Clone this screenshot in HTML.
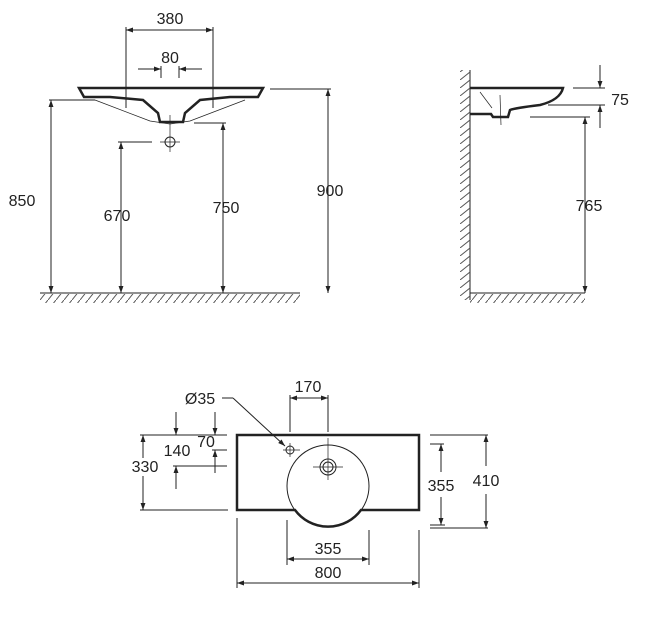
<!DOCTYPE html>
<html><head><style>
body{margin:0;background:#fff}
svg{display:block}
text{font-family:"Liberation Sans",sans-serif;font-size:16px;fill:#222;text-anchor:middle}
</style></head><body>
<svg width="648" height="637" viewBox="0 0 648 637" xmlns="http://www.w3.org/2000/svg">
<defs>
<marker id="a" viewBox="0 0 10 10" refX="10" refY="5" markerWidth="9" markerHeight="7" orient="auto-start-reverse" markerUnits="userSpaceOnUse"><path d="M0,1.5 L10,5 L0,8.5 z" fill="#222"/></marker>
<pattern id="h" width="8" height="10" patternUnits="userSpaceOnUse"><path d="M8,0 L0,10" stroke="#555" stroke-width="1"/></pattern>
<pattern id="hv" width="10" height="8" patternUnits="userSpaceOnUse"><path d="M10,0 L0,8" stroke="#555" stroke-width="1"/></pattern>
</defs>
<g stroke="#222" stroke-width="1" fill="none">
<!-- FRONT VIEW -->
<path d="M79,88 L263,88 L258,97 L230,97 L200,100 L185,113 L183,122 L160,122 L158,113 L143,100 L110,97 L84,97 Z" stroke-width="2.5"/>
<path d="M95,100 L150,121 L170,124 L190,121 L245,100" stroke-width="0.7"/>
<line x1="126" y1="27" x2="126" y2="108"/><line x1="213" y1="27" x2="213" y2="108"/>
<line x1="126" y1="30" x2="213" y2="30" marker-start="url(#a)" marker-end="url(#a)"/>
<line x1="161" y1="66" x2="161" y2="78"/><line x1="179" y1="66" x2="179" y2="78"/>
<line x1="138" y1="69" x2="161" y2="69" marker-end="url(#a)"/><line x1="202" y1="69" x2="179" y2="69" marker-end="url(#a)"/>
<line x1="170" y1="115" x2="170" y2="152" stroke-width="0.7"/>
<circle cx="170" cy="142" r="5"/><line x1="160" y1="142" x2="180" y2="142" stroke-width="0.7"/>
<line x1="49" y1="100" x2="95" y2="100"/>
<line x1="51" y1="100" x2="51" y2="293" marker-start="url(#a)" marker-end="url(#a)"/>
<line x1="118" y1="142" x2="152" y2="142"/>
<line x1="121" y1="142" x2="121" y2="293" marker-start="url(#a)" marker-end="url(#a)"/>
<line x1="194" y1="123" x2="226" y2="123"/>
<line x1="223" y1="123" x2="223" y2="293" marker-start="url(#a)" marker-end="url(#a)"/>
<line x1="270" y1="89" x2="331" y2="89"/>
<line x1="328" y1="89" x2="328" y2="293" marker-start="url(#a)" marker-end="url(#a)"/>
<line x1="40" y1="293" x2="300" y2="293"/>
<rect x="40" y="294" width="260" height="9" fill="url(#h)" stroke="none"/>
<!-- SIDE VIEW -->
<line x1="470" y1="70" x2="470" y2="300"/>
<rect x="460" y="70" width="10" height="230" fill="url(#hv)" stroke="none"/>
<line x1="470" y1="293" x2="585" y2="293"/>
<rect x="470" y="294" width="115" height="9" fill="url(#h)" stroke="none"/>
<path d="M470,88 L563,88 Q560,100 540,105 Q515,108 510,110 L508,117 L493,117 L491,114 L470,114" stroke-width="2.5"/>
<path d="M480,92 L492,108 M500,95 L501,125" stroke-width="0.7"/>
<line x1="573" y1="88" x2="605" y2="88"/><line x1="548" y1="105" x2="605" y2="105"/>
<line x1="600" y1="65" x2="600" y2="88" marker-end="url(#a)"/>
<line x1="600" y1="128" x2="600" y2="105" marker-end="url(#a)"/>
<line x1="530" y1="117" x2="590" y2="117"/>
<line x1="585" y1="117" x2="585" y2="293" marker-start="url(#a)" marker-end="url(#a)"/>
<!-- PLAN VIEW -->
<path d="M237,435 L419,435 L419,510 L361,510 A41,41 0 0 1 295,510 L237,510 Z" stroke-width="2.5"/>
<circle cx="328" cy="486" r="41"/>
<circle cx="290" cy="450" r="4"/><line x1="283" y1="450" x2="300" y2="450" stroke-width="0.7"/><line x1="290" y1="443" x2="290" y2="457" stroke-width="0.7"/>
<circle cx="328" cy="467" r="8"/><circle cx="328" cy="467" r="5"/>
<line x1="313" y1="467" x2="343" y2="467" stroke-width="0.7"/><line x1="328" y1="438" x2="328" y2="480" stroke-width="0.7"/>
<line x1="290" y1="395" x2="290" y2="432"/><line x1="328" y1="395" x2="328" y2="432"/>
<line x1="290" y1="398" x2="328" y2="398" marker-start="url(#a)" marker-end="url(#a)"/>
<line x1="222" y1="398" x2="233" y2="398"/>
<line x1="233" y1="398" x2="285" y2="446" marker-end="url(#a)"/>
<line x1="140" y1="435" x2="227" y2="435"/><line x1="140" y1="510" x2="228" y2="510"/>
<line x1="143" y1="458" x2="143" y2="435" marker-end="url(#a)"/>
<line x1="143" y1="476" x2="143" y2="510" marker-end="url(#a)"/>
<line x1="173" y1="466" x2="227" y2="466"/><line x1="212" y1="450" x2="227" y2="450"/>
<line x1="176" y1="412" x2="176" y2="435" marker-end="url(#a)"/>
<line x1="176" y1="489" x2="176" y2="466" marker-end="url(#a)"/>
<line x1="215" y1="412" x2="215" y2="435" marker-end="url(#a)"/>
<line x1="215" y1="473" x2="215" y2="450" marker-end="url(#a)"/>
<line x1="430" y1="444" x2="444" y2="444"/><line x1="430" y1="525" x2="445" y2="525"/>
<line x1="441" y1="472" x2="441" y2="444" marker-end="url(#a)"/>
<line x1="441" y1="497" x2="441" y2="525" marker-end="url(#a)"/>
<line x1="430" y1="435" x2="488" y2="435"/><line x1="430" y1="528" x2="488" y2="528"/>
<line x1="486" y1="466" x2="486" y2="435" marker-end="url(#a)"/>
<line x1="486" y1="494" x2="486" y2="528" marker-end="url(#a)"/>
<line x1="287" y1="520" x2="287" y2="565"/><line x1="369" y1="530" x2="369" y2="565"/>
<line x1="287" y1="559" x2="369" y2="559" marker-start="url(#a)" marker-end="url(#a)"/>
<line x1="237" y1="518" x2="237" y2="588"/><line x1="419" y1="530" x2="419" y2="588"/>
<line x1="237" y1="583" x2="419" y2="583" marker-start="url(#a)" marker-end="url(#a)"/>
</g>
<g>
<text x="170" y="24">380</text>
<text x="170" y="63">80</text>
<text x="22" y="206">850</text>
<text x="117" y="221">670</text>
<text x="226" y="213">750</text>
<text x="330" y="196">900</text>
<text x="620" y="105">75</text>
<text x="589" y="211">765</text>
<text x="308" y="392">170</text>
<text x="200" y="404">Ø35</text>
<text x="145" y="472">330</text>
<text x="177" y="456">140</text>
<text x="206" y="447">70</text>
<text x="441" y="491">355</text>
<text x="486" y="486">410</text>
<text x="328" y="554">355</text>
<text x="328" y="578">800</text>
</g>
</svg>
</body></html>
